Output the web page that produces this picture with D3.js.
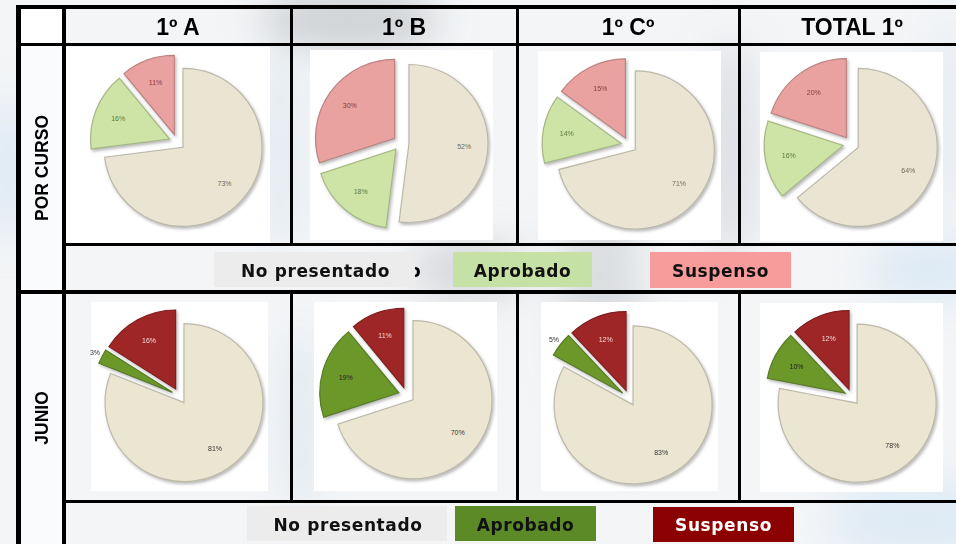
<!DOCTYPE html>
<html lang="es">
<head>
<meta charset="utf-8">
<title>Resultados 1º</title>
<script src="https://d3js.org/d3.v7.min.js"></script>
<style>
  body { margin: 0; background: #fff; }
  svg { display: block; }
  .head { font: bold 23px "Liberation Sans", Arial, sans-serif; fill: #000; }
  .side { font: bold 17.5px "Liberation Sans", Arial, sans-serif; fill: #000; }
  .leg { font: bold 17px "DejaVu Sans", Verdana, sans-serif; letter-spacing: 0.6px; }
  .pct { font: 7px "Liberation Sans", Arial, sans-serif; }
</style>
</head>
<body>
<svg width="956" height="544"></svg>
<script>
    var cursos = ["1º A", "1º B", "1º Cº", "TOTAL 1º"];
    var filas = ["POR CURSO", "JUNIO"];
    var estados = ["No presentado", "Aprobado", "Suspenso"];
    // % [no presentado, aprobado, suspenso]
    var porCurso = [[73, 16, 11], [52, 18, 30], [71, 14, 15], [64, 16, 20]];
    var junio = [[81, 3, 16], [70, 19, 11], [83, 5, 12], [78, 10, 12]];

    // colores de cada fila
    var coloresCurso = ["#e9e5d2", "#cde4a6", "#e9a2a0"];
    var coloresJunio = ["#ebe6d1", "#6c982c", "#9e2628"];
    var textoCurso = ["#6f6a5a", "#5d7a3a", "#8a3a3a"];
    var textoJunio = ["#333", "#222", "#f3d8d8"];
    var legendaCurso = ["#ececec", "#c6e1a6", "#f89b9b"];
    var legendaJunio = ["#ececec", "#5b8a27", "#8b0000"];

    var svg = d3.select("svg"),
        W = +svg.attr("width"),
        H = +svg.attr("height");

    var defs = svg.append("defs");
    defs.append("filter").attr("id", "blur")
        .attr("x", "-50%").attr("y", "-50%").attr("width", "200%").attr("height", "200%")
        .append("feGaussianBlur").attr("stdDeviation", 18);
    var sh = defs.append("filter").attr("id", "shadow")
        .attr("x", "-20%").attr("y", "-20%").attr("width", "140%").attr("height", "140%");
    sh.append("feDropShadow").attr("dx", 1.5).attr("dy", 2).attr("stdDeviation", 1.5)
        .attr("flood-color", "#666").attr("flood-opacity", 0.45);

    // fondo (foto difuminada)
    svg.append("rect").attr("width", W).attr("height", H).attr("fill", "#f3f5f7");
    var manchas = [
        [8, 170, 20, 70, "#d6e6f3"], [350, 20, 90, 30, "#c8cbcf"], [470, 270, 60, 30, "#d2d5d8"],
        [600, 300, 40, 120, "#d6d9dc"], [930, 270, 60, 30, "#d8e8f5"], [920, 520, 90, 40, "#dbe9f5"],
        [280, 150, 15, 100, "#d9e5ef"], [730, 150, 25, 110, "#d8dbdf"],
        [300, 420, 15, 90, "#dbe4ec"], [950, 120, 15, 100, "#e0e9f0"]
    ];
    svg.append("g").attr("filter", "url(#blur)").selectAll("ellipse")
        .data(manchas).enter().append("ellipse")
        .attr("cx", d => d[0]).attr("cy", d => d[1])
        .attr("rx", d => d[2]).attr("ry", d => d[3])
        .attr("fill", d => d[4]).attr("opacity", 0.85);
    svg.append("rect").attr("x", 21).attr("y", 46).attr("width", 41).attr("height", 498).attr("fill", "#fafbfc");

    // geometria de la tabla
    var colX = d3.scaleOrdinal().domain(cursos).range([178, 404, 628, 852]);
    var cajas = [
        [[66, 47, 204, 196], [310, 50, 183, 190], [538, 51, 183, 189], [760, 52, 183, 189]],
        [[91, 302, 177, 189], [314, 302, 183, 189], [541, 302, 177, 189], [760, 303, 183, 189]]
    ];
    var centros = [
        [[177, 142], [401, 143], [629, 145], [851, 144]],
        [[179.5, 396], [406.5, 395], [629, 398], [852, 397]]
    ];
    var R = 79, despl = 8;

    var pie = d3.pie().sort(null).value(d => d);
    var arc = d3.arc().innerRadius(0).outerRadius(R);
    var arcTexto = d3.arc().innerRadius(R * 0.7).outerRadius(R * 0.7);
    var arcFuera = d3.arc().innerRadius(R * 1.1).outerRadius(R * 1.1);

    function dibujaFila(fi, datos, colores, colTexto) {
        datos.forEach(function(vals, ci) {
            var b = cajas[fi][ci];
            svg.append("rect").attr("x", b[0]).attr("y", b[1])
                .attr("width", b[2]).attr("height", b[3]).attr("fill", "#fff");
            var c = centros[fi][ci];
            var g = svg.append("g").attr("transform", "translate(" + c[0] + "," + c[1] + ")");
            var porciones = g.selectAll(".slice").data(pie(vals)).enter().append("g")
                .attr("class", "slice")
                .attr("transform", function(d) {
                    var m = (d.startAngle + d.endAngle) / 2;
                    return "translate(" + (despl * Math.sin(m)) + "," + (-despl * Math.cos(m)) + ")";
                });
            porciones.append("path")
                .attr("d", arc)
                .attr("fill", (d, i) => colores[i])
                .attr("stroke", (d, i) => d3.color(colores[i]).darker(0.6))
                .attr("stroke-width", 1.2)
                .attr("filter", "url(#shadow)");
            porciones.append("text")
                .attr("class", "pct")
                .attr("transform", d => "translate(" + (d.data <= 5 ? arcFuera : arcTexto).centroid(d) + ")")
                .attr("text-anchor", "middle")
                .attr("dy", "0.35em")
                .attr("font-weight", fi === 1 ? "bold" : "normal")
                .attr("fill", (d, i) => (d.data <= 5 ? "#333" : colTexto[i]))
                .text(d => d.data + "%");
        });
    }
    dibujaFila(0, porCurso, coloresCurso, textoCurso);
    dibujaFila(1, junio, coloresJunio, textoJunio);

    // cabeceras
    svg.append("rect").attr("x", 21).attr("y", 9).attr("width", 41).attr("height", 34).attr("fill", "#fff");
    svg.selectAll(".head").data(cursos).enter().append("text")
        .attr("class", "head")
        .attr("x", d => colX(d)).attr("y", 35)
        .attr("text-anchor", "middle")
        .text(d => d);

    var filaY = [168, 418];
    svg.selectAll(".side").data(filas).enter().append("text")
        .attr("class", "side")
        .attr("transform", (d, i) => "translate(48," + filaY[i] + ") rotate(-90)")
        .attr("text-anchor", "middle")
        .text(d => d);

    // leyendas
    svg.append("text").attr("class", "leg").attr("x", 409).attr("y", 277).attr("fill", "#000").text("o");
    var legCajas = [
        [[214, 252, 201, 35], [453, 252, 139, 35], [650, 252, 141, 36]],
        [[247, 506, 200, 35], [455, 506, 141, 35], [653, 507, 141, 35]]
    ];
    var legBase = [277, 531];
    [legendaCurso, legendaJunio].forEach(function(cols, fi) {
        var lg = svg.append("g").selectAll("g").data(estados).enter().append("g");
        lg.append("rect")
            .attr("x", (d, i) => legCajas[fi][i][0]).attr("y", (d, i) => legCajas[fi][i][1])
            .attr("width", (d, i) => legCajas[fi][i][2]).attr("height", (d, i) => legCajas[fi][i][3])
            .attr("fill", (d, i) => cols[i]);
        lg.append("text")
            .attr("class", "leg")
            .attr("x", (d, i) => legCajas[fi][i][0] + legCajas[fi][i][2] / 2 + (i === 0 ? 1 : 0))
            .attr("y", legBase[fi])
            .attr("text-anchor", "middle")
            .attr("fill", (d, i) => (fi === 1 && i === 2) ? "#fff" : "#111")
            .text(d => d);
    });

    // lineas de la tabla
    var lineas = [
        [16, 5, W - 16, 4],      // superior
        [16, 5, 5, H - 5],       // izquierda
        [62, 5, 4, H - 5],       // columna de filas
        [16, 43, W - 16, 3],     // bajo cabecera
        [62, 243, W - 62, 3],    // leyenda 1
        [16, 290, W - 16, 4],    // separa filas
        [62, 500, W - 62, 3]     // leyenda 2
    ];
    [290, 516, 738].forEach(function(x) {
        lineas.push([x, 5, 3, 241]);
        lineas.push([x, 290, 3, 212]);
    });
    svg.append("g").selectAll("rect").data(lineas).enter().append("rect")
        .attr("x", d => d[0]).attr("y", d => d[1])
        .attr("width", d => d[2]).attr("height", d => d[3])
        .attr("fill", "#000");
</script>
</body>
</html>
